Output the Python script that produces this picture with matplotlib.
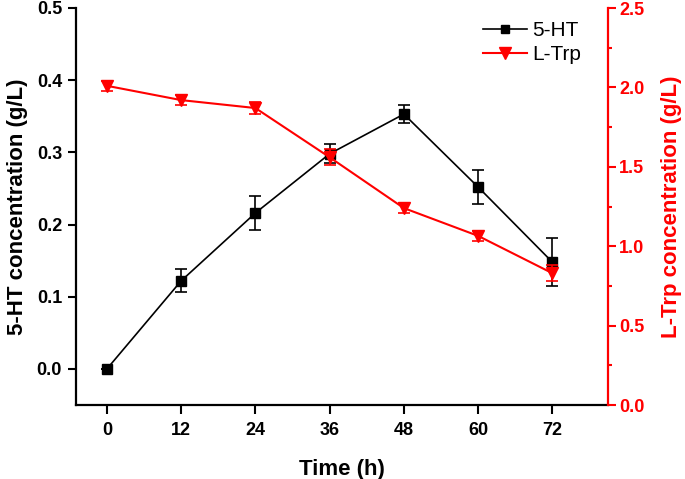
import matplotlib
matplotlib.use("Agg")
import matplotlib.pyplot as plt
from matplotlib.ticker import MultipleLocator, FormatStrFormatter
from matplotlib.lines import Line2D

plt.rcParams['font.family'] = ['Liberation Sans', 'DejaVu Sans']

time_h = [0, 12, 24, 36, 48, 60, 72]
ht5 = [0.0, 0.122, 0.216, 0.298, 0.353, 0.252, 0.148]
ht5_err = [0.0, 0.016, 0.023, 0.013, 0.013, 0.024, 0.033]
ltrp = [2.01, 1.92, 1.87, 1.56, 1.24, 1.065, 0.83]
ltrp_err = [0.03, 0.03, 0.04, 0.05, 0.03, 0.03, 0.05]

fig = plt.figure(figsize=(6.85, 4.79), dpi=100)
ax = fig.add_axes([76/685, 1-405/479, (608-76)/685, (405-8)/479])
ax2 = ax.twinx()

ax.errorbar(time_h, ht5, yerr=ht5_err, color='black', marker='s', markersize=6.5,
            linewidth=1.2, capsize=4, elinewidth=1.2, capthick=1.2)
ax2.errorbar(time_h, ltrp, yerr=ltrp_err, color='red', marker='v', markersize=8.5,
             linewidth=1.5, capsize=4, elinewidth=1.2, capthick=1.2)

ax.set_xlim(-5, 81)
ax.set_ylim(-0.05, 0.5)
ax2.set_ylim(0, 2.5)
ax.set_xticks(time_h)
ax.yaxis.set_major_locator(MultipleLocator(0.1))
ax2.yaxis.set_major_locator(MultipleLocator(0.5))
ax2.yaxis.set_minor_locator(MultipleLocator(0.25))
ax.yaxis.set_major_formatter(FormatStrFormatter('%.1f'))
ax2.yaxis.set_major_formatter(FormatStrFormatter('%.1f'))

for a in (ax, ax2):
    a.spines['top'].set_visible(False)
    for s in a.spines.values():
        s.set_linewidth(1.6)
ax.spines['right'].set_visible(False)
ax2.spines['left'].set_visible(False)
ax2.spines['bottom'].set_visible(False)
ax2.spines['right'].set_color('red')

ax.tick_params(axis='x', direction='out', length=6.5, width=1.5, labelsize=13, pad=6)
ax.tick_params(axis='y', direction='out', length=6, width=1.5, labelsize=13, pad=4)
ax2.tick_params(axis='y', which='major', direction='out', length=6, width=1.5,
                labelsize=13, colors='red', pad=2)
ax2.tick_params(axis='y', which='minor', direction='out', length=3, width=1.5, colors='red')
for lab in ax.get_xticklabels() + ax.get_yticklabels() + ax2.get_yticklabels():
    lab.set_fontweight('bold')

ax.set_xlabel('Time (h)', fontsize=16, fontweight='bold', labelpad=14)
ax.set_ylabel('5-HT concentration (g/L)', fontsize=16, fontweight='bold', labelpad=6)
ax2.set_ylabel('L-Trp concentration (g/L)', fontsize=16, fontweight='bold', color='red', labelpad=12)

handles = [Line2D([], [], color='black', marker='s', markersize=6, linewidth=1.2),
           Line2D([], [], color='red', marker='v', markersize=8.5, linewidth=1.5)]
fig.legend(handles, ['5-HT', 'L-Trp'], loc='upper left',
           bbox_to_anchor=(483/685, 1-21/479), bbox_transform=fig.transFigure,
           frameon=False, fontsize=15, handlelength=2.1, handletextpad=0.25,
           labelspacing=0.25, borderpad=0, borderaxespad=0)

fig.savefig('out.png', dpi=100)
